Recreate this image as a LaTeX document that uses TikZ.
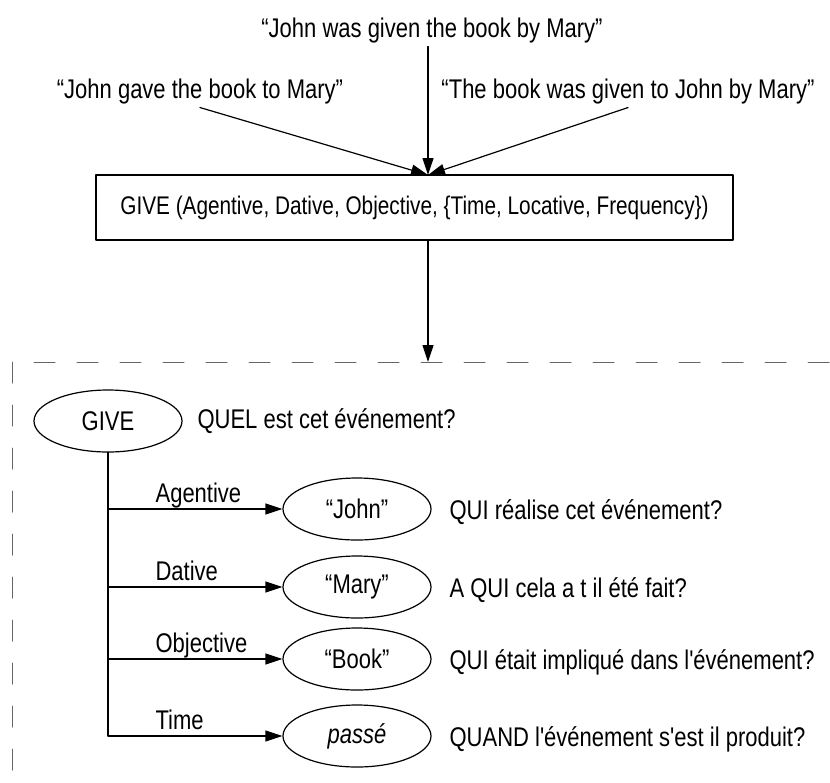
\documentclass[tikz,border=0pt]{standalone}
\usepackage{fontspec}
\setmainfont{Liberation Sans}[FakeStretch=0.815, Ligatures=TeXOff]
\usetikzlibrary{arrows.meta, calc, positioning, shapes.geometric}
\newcommand{\diagfont}{\fontsize{27}{32}\selectfont}

\begin{document}
\begin{tikzpicture}[line cap=round,line join=round,>={Triangle[length=17pt,width=11pt]},x=1pt,y=-1pt,line width=1.2pt,
  every node/.style={font=\diagfont},
  slot/.style={ellipse, draw, minimum width=148pt, minimum height=62pt},
  border/.style={dash pattern=on 21pt off 22pt, line width=1pt, black!60}]
\useasboundingbox (0,0) rectangle (830,782);

% Sentences
\node [anchor=base] (given) at (432,37) {“John was given the book by Mary”};
\node [anchor=base] (gave) at (200,98) {“John gave the book to Mary”};
\node [anchor=base] (passive) at (628,98) {“The book was given to John by Mary”};

% Case frame
\node [draw, minimum width=637pt, minimum height=65pt, font=\fontsize{25.5}{30}\selectfont] (frame) at (414.5,207.5) {GIVE (Agentive, Dative, Objective, \{Time, Locative, Frequency\})};
\coordinate (top) at (428,175);
\coordinate (hit) at (428,362);

% Draw
\draw [->] (gave.south) -- (top);
\draw [->] (given.south -| top) -- (top);
\draw [->] (passive.south) -- (top);
\draw [->] (frame.south -| top) -- (hit);

% Dashed border
\draw [border] (12,362) -- (12,782);
\draw [border, dash phase=21pt] (12,362) -- (830,362);

% Event
\node [slot] (give) at (108,421) {GIVE};
\node [right=11pt of give] (quel) {QUEL est cet événement?};

% Cases
\foreach \name/\role/\filler/\yy/\ask in {
  john/Agentive/“John”/509/{QUI réalise cet événement?},
  mary/Dative/“Mary”/587/{A QUI cela a t il été fait?},
  book/Objective/“Book”/659/{QUI était impliqué dans l'événement?},
  past/Time/\textit{passé}/736/{QUAND l'événement s'est il produit?}}
{
  \node [slot] (\name) at (357,\yy) {\filler};
  \node [anchor=base west, inner sep=0] (\name-role) at (155,\yy-7) {\role};
  \node [anchor=base west, inner sep=0] (\name-ask) at (449,\yy+10) {\ask};
  \draw [->] (give) |- (\name);
}
\end{tikzpicture}
\end{document}
